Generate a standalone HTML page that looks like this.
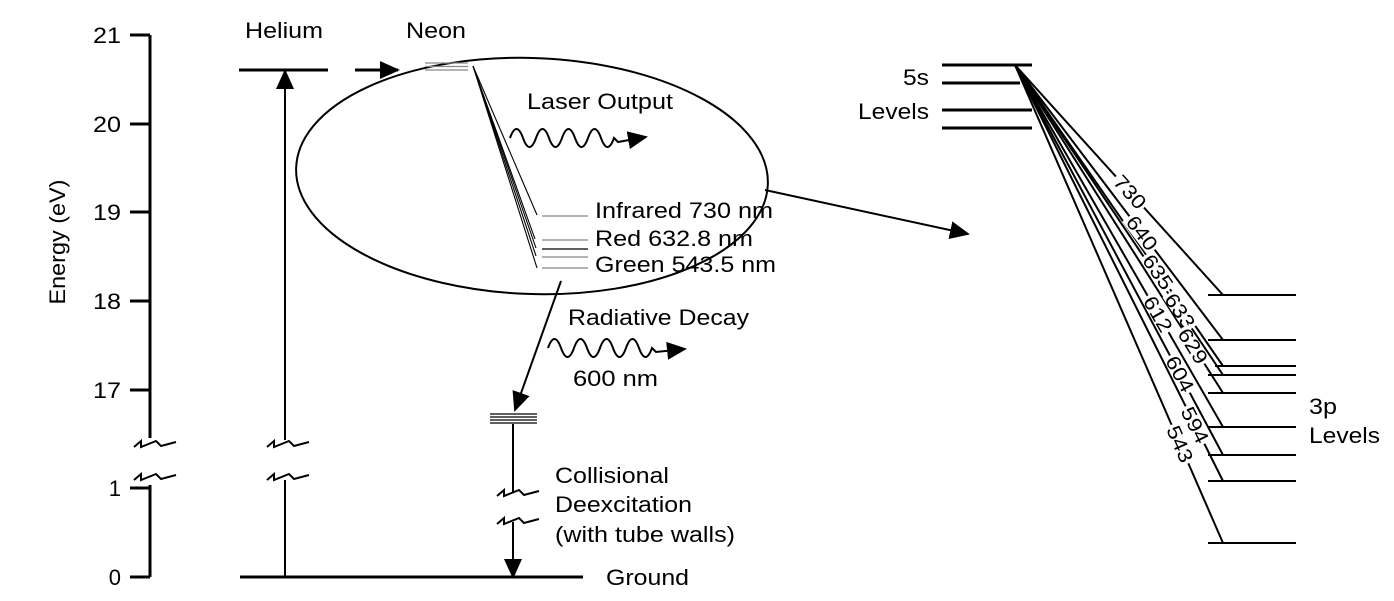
<!DOCTYPE html>
<html><head><meta charset="utf-8"><style>
html,body{margin:0;padding:0;background:#fff;}
svg{display:block;}
text{font-family:"Liberation Sans",sans-serif;fill:#000;}
</style></head><body>
<svg width="1394" height="601" viewBox="0 0 1394 601" xmlns="http://www.w3.org/2000/svg">
<defs>
<marker id="ah" markerWidth="20" markerHeight="18" refX="18" refY="9" orient="auto" markerUnits="userSpaceOnUse" viewBox="0 0 20 18"><path d="M0,0 L20,9 L0,18 z"/></marker>
</defs>
<g stroke="#000" stroke-width="3" fill="none">
<line x1="150" y1="35" x2="150" y2="438"/>
<line x1="150" y1="485" x2="150" y2="577"/>
<line x1="130" y1="35" x2="150" y2="35"/>
<line x1="130" y1="124" x2="150" y2="124"/>
<line x1="130" y1="212" x2="150" y2="212"/>
<line x1="130" y1="301" x2="150" y2="301"/>
<line x1="130" y1="390" x2="150" y2="390"/>
<line x1="130" y1="488" x2="150" y2="488"/>
<line x1="130" y1="577" x2="150" y2="577"/>
</g>
<g stroke="#000" stroke-width="2" fill="none">
<path d="M134,447 L141,441 L141,447 L156,441 L161,446 L176,442"/>
<path d="M134,480 L141,474 L141,480 L156,474 L161,479 L176,475"/>
<path d="M267,447 L274,441 L274,447 L289,441 L294,446 L309,442"/>
<path d="M267,480 L274,474 L274,480 L289,474 L294,479 L309,475"/>
<path d="M497,496 L504,490 L504,496 L519,490 L524,495 L539,491"/>
<path d="M497,524 L504,518 L504,524 L519,518 L524,523 L539,519"/>
</g>
<g font-size="22" text-anchor="end" lengthAdjust="spacingAndGlyphs">
<text x="121" y="43" textLength="28" lengthAdjust="spacingAndGlyphs">21</text>
<text x="121" y="132" textLength="28" lengthAdjust="spacingAndGlyphs">20</text>
<text x="121" y="220" textLength="28" lengthAdjust="spacingAndGlyphs">19</text>
<text x="121" y="309" textLength="28" lengthAdjust="spacingAndGlyphs">18</text>
<text x="121" y="398" textLength="28" lengthAdjust="spacingAndGlyphs">17</text>
<text x="121" y="496">1</text>
<text x="121" y="585">0</text>
</g>
<text x="0" y="0" font-size="22" text-anchor="middle" textLength="125" lengthAdjust="spacingAndGlyphs" transform="translate(65,242) rotate(-90)">Energy (eV)</text>
<line x1="239" y1="70" x2="328" y2="70" stroke="#000" stroke-width="3"/>
<line x1="285" y1="440" x2="285" y2="71" stroke="#000" stroke-width="2" marker-end="url(#ah)"/>
<line x1="285" y1="480" x2="285" y2="577" stroke="#000" stroke-width="2"/>
<line x1="240" y1="577" x2="583" y2="577" stroke="#000" stroke-width="3"/>
<g font-size="22">
<text x="245" y="38" textLength="78" lengthAdjust="spacingAndGlyphs">Helium</text>
<text x="406" y="38" textLength="60" lengthAdjust="spacingAndGlyphs">Neon</text>
<text x="606" y="585" textLength="83" lengthAdjust="spacingAndGlyphs">Ground</text>
</g>
<line x1="355" y1="70" x2="398" y2="70" stroke="#000" stroke-width="3" marker-end="url(#ah)"/>
<ellipse cx="532" cy="176" rx="236" ry="118" transform="rotate(2 532 176)" fill="none" stroke="#000" stroke-width="2"/>
<g stroke="#888" stroke-width="1.3">
<line x1="425" y1="63" x2="468" y2="63"/><line x1="425" y1="66.5" x2="468" y2="66.5"/><line x1="425" y1="70" x2="468" y2="70"/>
<line x1="542" y1="216" x2="588" y2="216"/>
<line x1="542" y1="240" x2="588" y2="240"/>
<line x1="542" y1="257" x2="588" y2="257"/>
<line x1="542" y1="268" x2="588" y2="268"/>
</g>
<line x1="542" y1="249" x2="588" y2="249" stroke="#000" stroke-width="1.3"/>
<g stroke="#000" stroke-width="1.1">
<line x1="473" y1="66" x2="537" y2="215"/>
<line x1="473" y1="66" x2="535" y2="239"/>
<line x1="473" y1="66" x2="536" y2="248"/>
<line x1="473" y1="66" x2="536" y2="256"/>
<line x1="473" y1="66" x2="537" y2="268"/>
</g>
<g font-size="22">
<text x="595" y="218" textLength="178" lengthAdjust="spacingAndGlyphs">Infrared 730 nm</text>
<text x="595" y="246" textLength="158" lengthAdjust="spacingAndGlyphs">Red 632.8 nm</text>
<text x="595" y="272" textLength="181" lengthAdjust="spacingAndGlyphs">Green 543.5 nm</text>
<text x="527" y="109" textLength="146" lengthAdjust="spacingAndGlyphs">Laser Output</text>
<text x="568" y="325" textLength="181" lengthAdjust="spacingAndGlyphs">Radiative Decay</text>
<text x="573" y="386" textLength="85" lengthAdjust="spacingAndGlyphs">600 nm</text>
<text x="555" y="483" textLength="114" lengthAdjust="spacingAndGlyphs">Collisional</text>
<text x="555" y="512" textLength="137" lengthAdjust="spacingAndGlyphs">Deexcitation</text>
<text x="555" y="542" textLength="180" lengthAdjust="spacingAndGlyphs">(with tube walls)</text>
<text x="929" y="85" text-anchor="end" textLength="26" lengthAdjust="spacingAndGlyphs">5s</text>
<text x="929" y="119" text-anchor="end" textLength="71" lengthAdjust="spacingAndGlyphs">Levels</text>
<text x="1309" y="414" textLength="28" lengthAdjust="spacingAndGlyphs">3p</text>
<text x="1309" y="443" textLength="71" lengthAdjust="spacingAndGlyphs">Levels</text>
</g>
<path d="M510,138 q6.5,-18 13,0 t13,0 t13,0 t13,0 t13,0 t13,0 t13,0 t13,0 l4,4 L646,137" fill="none" stroke="#000" stroke-width="2" marker-end="url(#ah)"/>
<path d="M548,348 q6.5,-18 13,0 t13,0 t13,0 t13,0 t13,0 t13,0 t13,0 t13,0 l4,4 L685,349" fill="none" stroke="#000" stroke-width="2" marker-end="url(#ah)"/>
<line x1="561" y1="281" x2="515" y2="410" stroke="#000" stroke-width="2" marker-end="url(#ah)"/>
<g stroke="#000" stroke-width="1.2">
<line x1="490" y1="414" x2="537" y2="414"/><line x1="490" y1="417" x2="537" y2="417"/><line x1="490" y1="420" x2="537" y2="420"/><line x1="490" y1="423" x2="537" y2="423"/>
</g>
<line x1="513" y1="424" x2="513" y2="492" stroke="#000" stroke-width="2"/>
<line x1="513" y1="522" x2="513" y2="577" stroke="#000" stroke-width="2" marker-end="url(#ah)"/>
<line x1="765" y1="190" x2="968" y2="234" stroke="#000" stroke-width="2" marker-end="url(#ah)"/>
<g stroke="#000" stroke-width="3">
<line x1="942" y1="65" x2="1032" y2="65"/>
<line x1="942" y1="83" x2="1020" y2="83"/>
<line x1="942" y1="110" x2="1032" y2="110"/>
<line x1="942" y1="128" x2="1032" y2="128"/>
</g>
<g stroke="#000" stroke-width="2">
<line x1="1208" y1="295" x2="1296" y2="295"/>
<line x1="1208" y1="340" x2="1296" y2="340"/>
<line x1="1215" y1="366" x2="1296" y2="366"/>
<line x1="1208" y1="375" x2="1296" y2="375"/>
<line x1="1208" y1="393" x2="1296" y2="393"/>
<line x1="1208" y1="427" x2="1296" y2="427"/>
<line x1="1208" y1="455" x2="1296" y2="455"/>
<line x1="1208" y1="481" x2="1296" y2="481"/>
<line x1="1208" y1="543" x2="1296" y2="543"/>
</g>
<g stroke="#000" stroke-width="2">
<line x1="1015" y1="65" x2="1223" y2="295"/>
<line x1="1015" y1="65" x2="1223" y2="340"/>
<line x1="1015" y1="65" x2="1223" y2="366"/>
<line x1="1015" y1="65" x2="1223" y2="375"/>
<line x1="1015" y1="65" x2="1223" y2="393"/>
<line x1="1015" y1="65" x2="1223" y2="427"/>
<line x1="1015" y1="65" x2="1223" y2="455"/>
<line x1="1015" y1="65" x2="1223" y2="481"/>
<line x1="1015" y1="65" x2="1223" y2="543"/>
</g>
<g font-size="20" text-anchor="middle">
<g transform="translate(1130,192) rotate(47.9)"><rect x="-21" y="-9" width="42" height="18" fill="#fff"/><text y="7" textLength="38" lengthAdjust="spacingAndGlyphs">730</text></g>
<g transform="translate(1142,233) rotate(52.9)"><rect x="-21" y="-9" width="42" height="18" fill="#fff"/><text y="7" textLength="38" lengthAdjust="spacingAndGlyphs">640</text></g>
<g transform="translate(1158,272) rotate(55.4)"><rect x="-21" y="-7" width="42" height="14" fill="#fff"/><text y="7" textLength="38" lengthAdjust="spacingAndGlyphs">635</text></g>
<g transform="translate(1180,311) rotate(56.1)"><rect x="-21" y="-7" width="42" height="14" fill="#fff"/><text y="7" textLength="38" lengthAdjust="spacingAndGlyphs">633</text></g>
<g transform="translate(1193,346) rotate(57.6)"><rect x="-21" y="-7" width="42" height="14" fill="#fff"/><text y="7" textLength="38" lengthAdjust="spacingAndGlyphs">629</text></g>
<g transform="translate(1158,314) rotate(60.1)"><rect x="-21" y="-7" width="42" height="14" fill="#fff"/><text y="7" textLength="38" lengthAdjust="spacingAndGlyphs">612</text></g>
<g transform="translate(1180,374) rotate(61.9)"><rect x="-21" y="-7" width="42" height="14" fill="#fff"/><text y="7" textLength="38" lengthAdjust="spacingAndGlyphs">604</text></g>
<g transform="translate(1195,425) rotate(63.4)"><rect x="-21" y="-7" width="42" height="14" fill="#fff"/><text y="7" textLength="38" lengthAdjust="spacingAndGlyphs">594</text></g>
<g transform="translate(1180,444) rotate(66.5)"><rect x="-21" y="-8" width="42" height="16" fill="#fff"/><text y="7" textLength="38" lengthAdjust="spacingAndGlyphs">543</text></g>
</g>
</svg>
</body></html>
